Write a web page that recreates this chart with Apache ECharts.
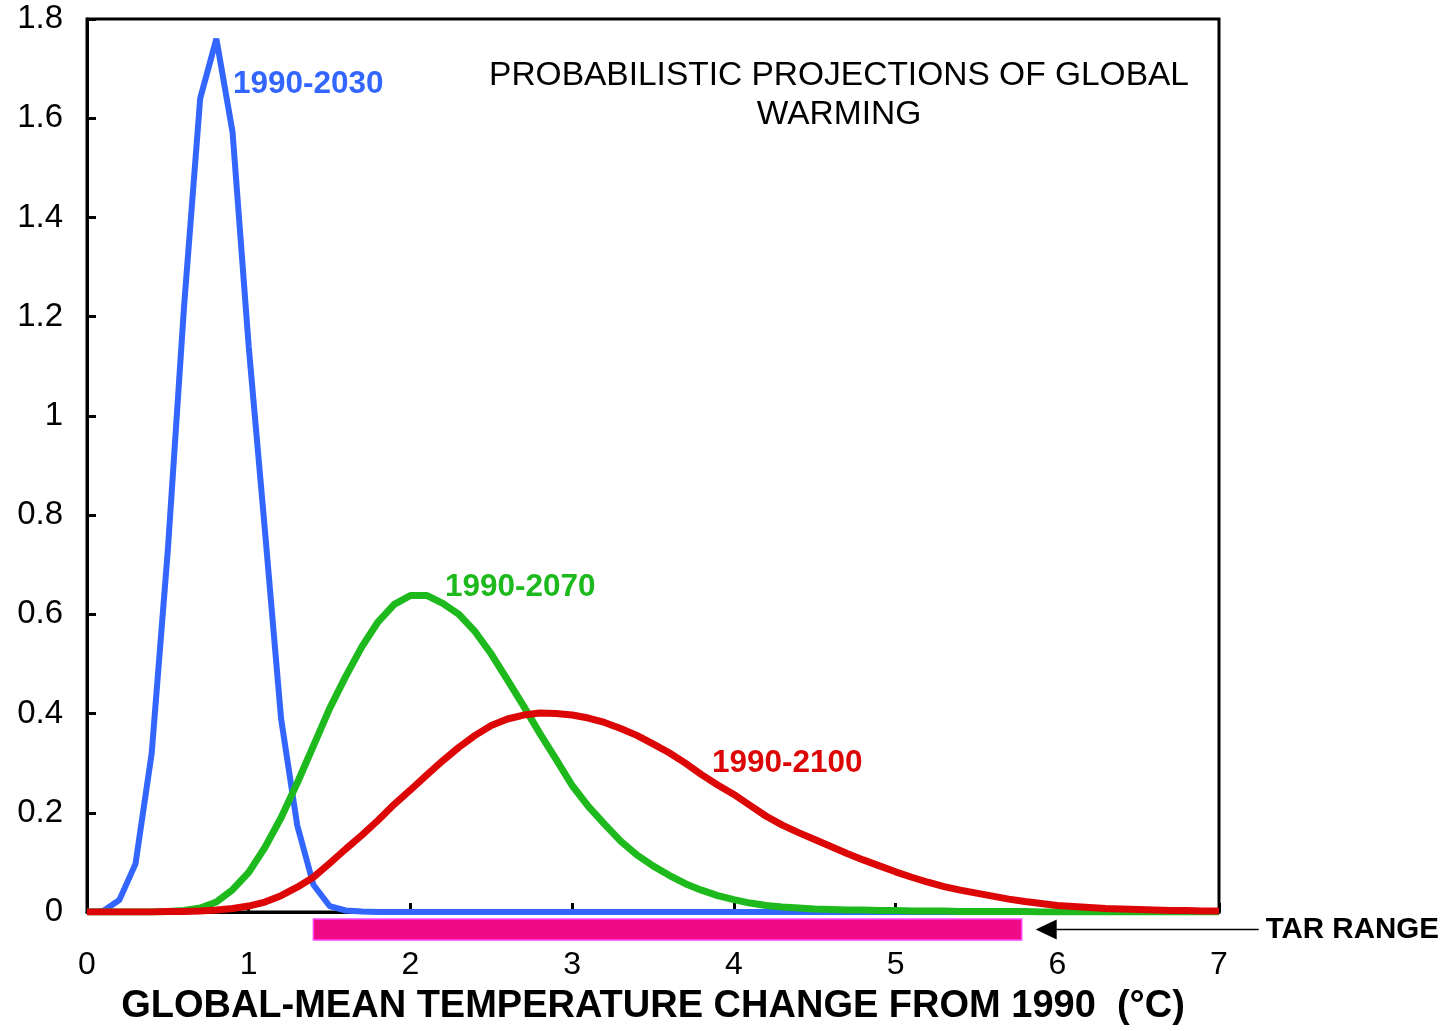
<!DOCTYPE html>
<html>
<head>
<meta charset="utf-8">
<script src="https://cdn.jsdelivr.net/npm/echarts@6/dist/echarts.min.js"></script>
<style>
html,body{margin:0;padding:0;background:#fff;}
#chart{width:1444px;height:1031px;}
</style>
</head>
<body>
<div id="chart"></div>
<script>
// Temperature change from 1990 (°C)
const xs = [0.0,0.1,0.2,0.3,0.4,0.5,0.6,0.7,0.8,0.9,
            1.0,1.1,1.2,1.3,1.4,1.5,1.6,1.7,1.8,1.9,
            2.0,2.1,2.2,2.3,2.4,2.5,2.6,2.7,2.8,2.9,
            3.0,3.1,3.2,3.3,3.4,3.5,3.6,3.7,3.8,3.9,
            4.0,4.1,4.2,4.3,4.4,4.5,4.6,4.7,4.8,4.9,
            5.0,5.1,5.2,5.3,5.4,5.5,5.6,5.7,5.8,5.9,
            6.0,6.1,6.2,6.3,6.4,6.5,6.6,6.7,6.8,6.9,7.0];

// Probability density, 1990-2030
const pdf2030 = [0,0.002,0.024,0.097,0.32,0.73,1.22,1.64,1.76,1.572,
                 1.14,0.77,0.39,0.175,0.055,0.012,0.003,0.001,0,0,
                 0,0,0,0,0,0,0,0,0,0,
                 0,0,0,0,0,0,0,0,0,0,
                 0,0,0,0,0,0,0,0,0,0,
                 0,0,0,0,0,0,0,0,0,0,
                 0,0,0,0,0,0,0,0,0,0,0];

// Probability density, 1990-2070
const pdf2070 = [0,0,0,0,0,0.001,0.003,0.008,0.02,0.045,
                 0.08,0.13,0.19,0.26,0.335,0.41,0.475,0.535,0.585,0.62,
                 0.638,0.638,0.622,0.60,0.565,0.52,0.468,0.415,0.36,0.308,
                 0.255,0.213,0.177,0.143,0.115,0.093,0.074,0.057,0.044,0.033,
                 0.025,0.018,0.013,0.01,0.008,0.006,0.005,0.004,0.004,0.003,
                 0.003,0.002,0.002,0.002,0.001,0.001,0.001,0.001,0.001,0,
                 0,0,0,0,0,0,0,0,0,0,0];

// Probability density, 1990-2100
const pdf2100 = [0,0,0,0,0,0.001,0.001,0.002,0.004,0.007,
                 0.012,0.02,0.033,0.05,0.07,0.098,0.127,0.155,0.185,0.217,
                 0.246,0.276,0.305,0.332,0.356,0.376,0.389,0.397,0.401,0.400,
                 0.397,0.391,0.382,0.37,0.356,0.339,0.321,0.300,0.277,0.256,
                 0.237,0.215,0.193,0.175,0.16,0.146,0.132,0.118,0.105,0.093,
                 0.081,0.07,0.06,0.051,0.044,0.038,0.032,0.026,0.021,0.017,
                 0.013,0.011,0.009,0.007,0.006,0.005,0.004,0.003,0.003,0.002,0.002];

// TAR range (°C), as drawn
const tarRange = [1.4, 5.78];

const seriesNames = ['1990-2030','1990-2070','1990-2100'];
const titleText = 'PROBABILISTIC PROJECTIONS OF GLOBAL\nWARMING';
const xName = 'GLOBAL-MEAN TEMPERATURE CHANGE FROM 1990  (°C)';

const FONT = '"Liberation Sans", Arial, sans-serif';
const pair = arr => xs.map((x, i) => [x, arr[i]]);

const chart = echarts.init(document.getElementById('chart'));
chart.setOption({
  animation: false,
  backgroundColor: '#fff',
  grid: {left: 87, right: 225, top: 19, bottom: 117, show: true,
         borderColor: '#000', borderWidth: 3, backgroundColor: 'transparent'},
  xAxis: {
    type: 'value', min: 0, max: 7, interval: 1,
    axisLine: {show: true, lineStyle: {color: '#000', width: 3}},
    axisTick: {show: true, inside: true, length: 9, lineStyle: {color: '#000', width: 3}},
    splitLine: {show: false},
    axisLabel: {color: '#000', fontSize: 32, fontFamily: FONT, margin: 37},
    name: xName, nameLocation: 'middle', nameGap: 76,
    nameTextStyle: {color: '#000', fontSize: 38, fontWeight: 'bold', fontFamily: FONT}
  },
  yAxis: {
    type: 'value', min: 0, max: 1.8, interval: 0.2,
    axisLine: {show: true, lineStyle: {color: '#000', width: 3}},
    axisTick: {show: true, inside: true, length: 9, lineStyle: {color: '#000', width: 3}},
    splitLine: {show: false},
    axisLabel: {color: '#000', fontSize: 33, fontFamily: FONT, margin: 24}
  },
  graphic: [
    {type: 'text', x: 839, y: 56,
     style: {text: titleText, fill: '#000', font: '33.5px ' + FONT, align: 'center', verticalAlign: 'top', lineHeight: 39}},
    {type: 'text', x: 233, y: 84,
     style: {text: seriesNames[0], fill: '#3366FF', font: 'bold 31.5px ' + FONT, align: 'left', verticalAlign: 'middle'}},
    {type: 'text', x: 445, y: 587,
     style: {text: seriesNames[1], fill: '#1DB91D', font: 'bold 31.5px ' + FONT, align: 'left', verticalAlign: 'middle'}},
    {type: 'text', x: 712, y: 763,
     style: {text: seriesNames[2], fill: '#DD0606', font: 'bold 31.5px ' + FONT, align: 'left', verticalAlign: 'middle'}}
  ],
  series: [
    {name: seriesNames[0], type: 'line', data: pair(pdf2030), showSymbol: false, symbol: 'none',
     lineStyle: {color: '#3366FF', width: 6}, z: 3},
    {name: seriesNames[1], type: 'line', data: pair(pdf2070), showSymbol: false, symbol: 'none',
     lineStyle: {color: '#1DB91D', width: 7}, z: 4},
    {name: seriesNames[2], type: 'line', data: pair(pdf2100), showSymbol: false, symbol: 'none',
     lineStyle: {color: '#DD0606', width: 7}, z: 5},
    {
      type: 'custom', clip: false, silent: true, z: 6,
      data: [[tarRange[0], tarRange[1], 0]],
      encode: {x: [0, 1], y: 2},
      renderItem: function (params, api) {
        const a = api.coord([api.value(0), api.value(2)]);
        const b = api.coord([api.value(1), api.value(2)]);
        const top = a[1] + 7, h = 21;
        const cy = top + h / 2;
        const tipX = b[0] + 14;
        return {type: 'group', children: [
          {type: 'rect', shape: {x: a[0], y: top, width: b[0] - a[0], height: h},
           style: {fill: '#EF0A86', stroke: '#FF44FF', lineWidth: 1.5}},
          {type: 'polygon', shape: {points: [[tipX, cy], [tipX + 21, cy - 10], [tipX + 21, cy + 10]]},
           style: {fill: '#000'}},
          {type: 'line', shape: {x1: tipX + 18, y1: cy, x2: tipX + 223, y2: cy},
           style: {stroke: '#000', lineWidth: 1.5}},
          {type: 'text', x: tipX + 230, y: cy,
           style: {text: 'TAR RANGE', fill: '#000', font: 'bold 29.5px ' + FONT, align: 'left', verticalAlign: 'middle'}}
        ]};
      }
    }
  ]
});
</script>
</body>
</html>
